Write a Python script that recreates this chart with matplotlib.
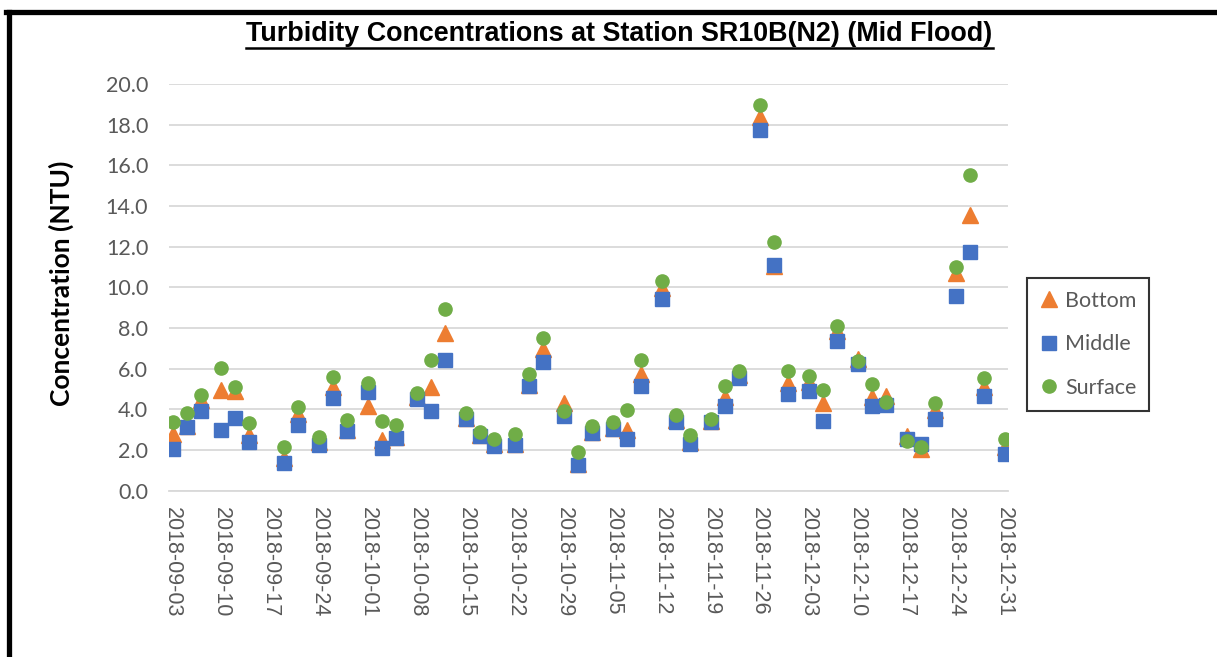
import numpy as np
import pandas as pd
import matplotlib
matplotlib.use("Agg")
import matplotlib.pyplot as plt
import matplotlib.dates as mdates
from matplotlib.lines import Line2D

# sampling dates (mid flood) and turbidity readings, NTU
dates = ['2018-09-03', '2018-09-05', '2018-09-07', '2018-09-10', '2018-09-12', '2018-09-14',
         '2018-09-19', '2018-09-21', '2018-09-24', '2018-09-26', '2018-09-28', '2018-10-01',
         '2018-10-03', '2018-10-05', '2018-10-08', '2018-10-10', '2018-10-12', '2018-10-15',
         '2018-10-17', '2018-10-19', '2018-10-22', '2018-10-24', '2018-10-26', '2018-10-29',
         '2018-10-31', '2018-11-02', '2018-11-05', '2018-11-07', '2018-11-09', '2018-11-12',
         '2018-11-14', '2018-11-16', '2018-11-19', '2018-11-21', '2018-11-23', '2018-11-26',
         '2018-11-28', '2018-11-30', '2018-12-03', '2018-12-05', '2018-12-07', '2018-12-10',
         '2018-12-12', '2018-12-14', '2018-12-17', '2018-12-19', '2018-12-21', '2018-12-24',
         '2018-12-26', '2018-12-28', '2018-12-31']
bottom = [2.8, 3.2, 4.45, 4.95, 4.9, 2.75, 1.6, 3.75, 2.4, 5.1, 3.0, 4.15, 2.5, 2.65, 4.6,
          5.1, 7.75, 3.6, 2.75, 2.3, 2.3, 5.2, 6.95, 4.3, 1.3, 2.9, 3.1, 3.0, 5.75, 9.95,
          3.5, 2.4, 3.45, 4.6, 5.7, 18.4, 11.05, 5.3, 5.35, 4.3, 7.85, 6.5, 4.6, 4.65,
          2.7, 2.05, 3.95, 10.7, 13.55, 5.1, 2.15]
middle = [2.05, 3.15, 3.9, 3.0, 3.6, 2.4, 1.35, 3.25, 2.25, 4.55, 2.95, 4.85, 2.1, 2.6, 4.5,
          3.9, 6.45, 3.55, 2.7, 2.2, 2.25, 5.15, 6.35, 3.65, 1.25, 2.85, 3.05, 2.55, 5.15, 9.45,
          3.4, 2.3, 3.4, 4.15, 5.55, 17.75, 11.1, 4.75, 4.9, 3.45, 7.35, 6.25, 4.15, 4.2,
          2.55, 2.3, 3.55, 9.6, 11.75, 4.65, 1.8]
surface = [3.4, 3.8, 4.7, 6.05, 5.1, 3.35, 2.15, 4.1, 2.65, 5.6, 3.5, 5.3, 3.45, 3.25, 4.8,
           6.45, 8.95, 3.8, 2.9, 2.55, 2.8, 5.75, 7.5, 3.9, 1.9, 3.2, 3.4, 3.95, 6.45, 10.3,
           3.7, 2.75, 3.55, 5.15, 5.9, 18.95, 12.25, 5.9, 5.65, 4.95, 8.1, 6.4, 5.25, 4.35,
           2.45, 2.15, 4.3, 11.0, 15.55, 5.55, 2.55]

title = 'Turbidity Concentrations at Station SR10B(N2) (Mid Flood)'
TICK_COLOR = '#595959'
GRID_COLOR = '#d9d9d9'

x = pd.to_datetime(dates)

fig = plt.figure(figsize=(12.17, 6.57), dpi=100)
ax = fig.add_axes([0.1389, 0.2531, 0.6894, 0.619])

ax.plot(x, bottom, linestyle='none', marker='^', markersize=11.5,
        color='#ED7D31', label='Bottom', zorder=3)
ax.plot(x, middle, linestyle='none', marker='s', markersize=10,
        color='#4472C4', label='Middle', zorder=4)
ax.plot(x, surface, linestyle='none', marker='o', markersize=9.5,
        color='#70AD47', label='Surface', zorder=5)

start = pd.Timestamp('2018-09-03')
ax.set_xlim(start - pd.Timedelta(hours=12), pd.Timestamp('2018-12-31') + pd.Timedelta(hours=12))
ax.set_ylim(0, 20)
ax.set_yticks(np.arange(0, 20.1, 2))
ax.yaxis.set_major_formatter(matplotlib.ticker.FormatStrFormatter('%.1f'))
ax.set_xticks(pd.date_range(start, '2018-12-31', freq='7D'))
ax.xaxis.set_major_formatter(mdates.DateFormatter('%Y-%m-%d'))

ax.grid(axis='y', color=GRID_COLOR, linewidth=1.3)
ax.set_axisbelow(True)
for s in ['left', 'right', 'top']:
    ax.spines[s].set_visible(False)
ax.spines['bottom'].set_color(GRID_COLOR)
ax.spines['bottom'].set_linewidth(1.3)
ax.tick_params(axis='both', length=0, colors=TICK_COLOR)
ax.tick_params(axis='y', pad=15)
ax.tick_params(axis='x', pad=12)
for lab in ax.get_yticklabels():
    lab.set_fontfamily('Lato')
    lab.set_fontsize(15.5)
for lab in ax.get_xticklabels():
    lab.set_fontfamily('Liberation Sans')
    lab.set_fontsize(15.5)
    lab.set_rotation(270)
    lab.set_ha('center')
    lab.set_va('top')

ax.set_ylabel('Concentration (NTU)', fontfamily='Lato', fontweight='bold',
              fontsize=19, color='black')
ax.yaxis.set_label_coords(-0.113, 0.51)

leg = ax.legend(loc='center left', bbox_to_anchor=(1.01, 0.36), frameon=True,
                fancybox=False, edgecolor='black', handlelength=0.8, handletextpad=0.35,
                labelspacing=1.1, borderpad=0.6, prop={'family': 'Lato', 'size': 15.5})
leg.get_frame().set_linewidth(1.5)
for t in leg.get_texts():
    t.set_color(TICK_COLOR)

ttl = fig.text(0.509, 0.948, title, ha='center', va='center', fontsize=19.4,
               fontweight='bold', fontfamily='Liberation Sans')

# outer frame, left and top edges
fig.add_artist(Line2D([9 / 1217, 9 / 1217], [0, 1 - 11.5 / 657], color='black', linewidth=3.8))
fig.add_artist(Line2D([6 / 1217, 1], [1 - 11.5 / 657, 1 - 11.5 / 657], color='black', linewidth=3.8))

# underline the title
fig.canvas.draw()
bb = ttl.get_window_extent().transformed(fig.transFigure.inverted())
fig.add_artist(Line2D([bb.x0, bb.x1], [bb.y0 - 0.002, bb.y0 - 0.002], color='black', linewidth=1.8))

fig.savefig('out.png', dpi=100)
